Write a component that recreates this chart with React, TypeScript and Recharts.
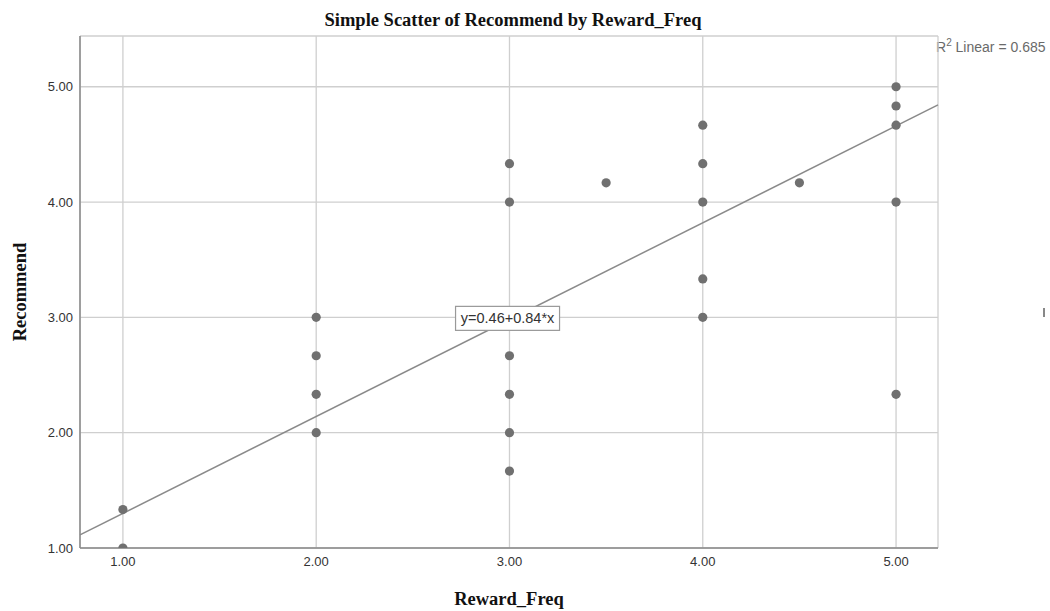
import {
  ScatterChart,
  Scatter,
  XAxis,
  YAxis,
  CartesianGrid,
  ReferenceLine,
  ReferenceDot,
} from "recharts";

// observed points (Reward_Freq, Recommend)
const rewardFreq = [1, 1, 2, 2, 2, 2, 3, 3, 3, 3, 3, 3, 3.5, 4, 4, 4, 4, 4, 4.5, 5, 5, 5, 5, 5];
const recommend = [
  1.0, 1.333, 3.0, 2.667, 2.333, 2.0, 4.333, 4.0, 2.667, 2.333, 2.0, 1.667, 4.167, 4.667, 4.333,
  4.0, 3.333, 3.0, 4.167, 5.0, 4.833, 4.667, 4.0, 2.333,
];

const xTicks = [1, 2, 3, 4, 5];
const yTicks = [1, 2, 3, 4, 5];
const xDomain = [0.778, 5.217];
const yDomain = [1, 5.44];

// fit line
const intercept = 0.46;
const slope = 0.84;
const r2 = 0.685;

const points = rewardFreq.map((x, i) => ({ x, y: recommend[i] }));

const serif = '"Liberation Serif", "Times New Roman", serif';
const sans = '"Liberation Sans", Arial, sans-serif';

export default function App() {
  return (
    <div style={{ position: "absolute", left: 0, top: 0, width: 1050, height: 611, background: "#fff" }}>
      {/* TITLE */}
      <div
        style={{
          position: "absolute",
          top: 8,
          left: 0,
          width: 1026,
          textAlign: "center",
          fontFamily: serif,
          fontWeight: "bold",
          fontSize: 18.5,
          lineHeight: "24px",
          color: "#111",
        }}
      >
        Simple Scatter of Recommend by Reward_Freq
      </div>

      {/* R2 */}
      <div
        style={{
          position: "absolute",
          top: 38,
          left: 936,
          fontFamily: sans,
          fontSize: 14,
          lineHeight: "18px",
          color: "#6a6a6a",
          whiteSpace: "nowrap",
        }}
      >
        R<sup style={{ fontSize: 10, verticalAlign: "6px", lineHeight: 0 }}>2</sup> Linear = {r2}
      </div>

      {/* small stray mark at right edge */}
      <div style={{ position: "absolute", left: 1043, top: 308, width: 2, height: 9, background: "#888" }} />

      <ScatterChart width={1050} height={611} margin={{ top: 36, right: 112, left: 0, bottom: 0 }}>
        <CartesianGrid stroke="#cfcfcf" strokeWidth={1.3} />
        <XAxis
          type="number"
          dataKey="x"
          domain={xDomain}
          ticks={xTicks}
          allowDataOverflow
          height={63}
          tickFormatter={(v) => v.toFixed(2)}
          tick={{ fill: "#333", fontSize: 13, fontFamily: sans }}
          tickLine={false}
          tickSize={0}
          tickMargin={9}
          axisLine={{ stroke: "#888", strokeWidth: 1.5 }}
          label={{
            value: "Reward_Freq",
            position: "insideBottom",
            offset: 6,
            style: { fontFamily: serif, fontWeight: "bold", fontSize: 18.5, fill: "#111" },
          }}
        />
        <YAxis
          type="number"
          dataKey="y"
          domain={yDomain}
          ticks={yTicks}
          allowDataOverflow
          width={80}
          tickFormatter={(v) => v.toFixed(2)}
          tick={{ fill: "#333", fontSize: 13, fontFamily: sans }}
          tickLine={false}
          tickSize={0}
          tickMargin={7}
          axisLine={{ stroke: "#888", strokeWidth: 1.5 }}
          label={({ viewBox }: any) => (
            <text
              x={0}
              y={0}
              transform={`translate(${viewBox.x + 20}, ${viewBox.y + viewBox.height / 2}) rotate(-90)`}
              textAnchor="middle"
              dominantBaseline="central"
              fontFamily={serif}
              fontWeight="bold"
              fontSize={18.5}
              fill="#111"
            >
              Recommend
            </text>
          )}
        />

        {/* FIT LINE */}
        <ReferenceLine
          segment={[
            { x: xDomain[0], y: intercept + slope * xDomain[0] },
            { x: xDomain[1], y: intercept + slope * xDomain[1] },
          ]}
          stroke="#8a8a8a"
          strokeWidth={1.5}
          ifOverflow="visible"
        />

        <Scatter
          data={points}
          fill="#707070"
          isAnimationActive={false}
          shape={(p: any) => <circle cx={p.cx} cy={p.cy} r={4.6} fill="#707070" />}
        />

        {/* EQUATION BOX */}
        <ReferenceDot
          x={2.99}
          y={3.0}
          r={0}
          fill="none"
          stroke="none"
          ifOverflow="visible"
          label={({ viewBox }: any) => {
            const cx = viewBox.x + (viewBox.width || 0) / 2;
            const cy = viewBox.y + (viewBox.height || 0) / 2;
            return (
              <g>
                <rect x={cx - 52} y={cy - 11} width={104} height={24} fill="#fff" stroke="#999" strokeWidth={1.2} />
                <text x={cx} y={cy + 6} textAnchor="middle" fontFamily={sans} fontSize={14.5} fill="#333">
                  y=0.46+0.84*x
                </text>
              </g>
            );
          }}
        />
      </ScatterChart>
    </div>
  );
}
